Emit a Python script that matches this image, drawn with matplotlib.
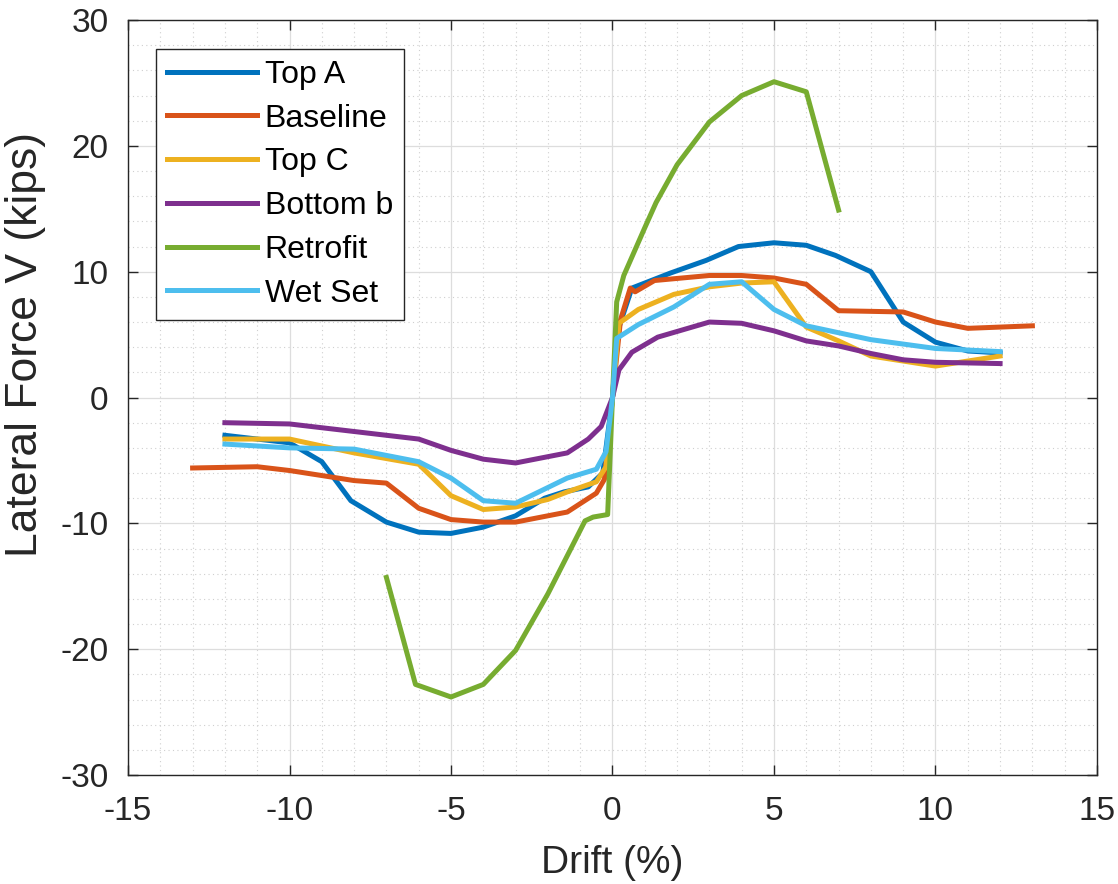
import matplotlib
matplotlib.use("Agg")
import matplotlib.pyplot as plt
from matplotlib.ticker import MultipleLocator

plt.rcParams['font.family'] = ['Liberation Sans', 'DejaVu Sans']
plt.rcParams['axes.unicode_minus'] = False

# ---- data ----
topA_x = [-12, -10, -9, -8.1, -7, -6, -5, -4, -3, -2.1, -1.5, -0.75, -0.3, 0, 0.15, 0.6, 1.8, 2.9, 3.9, 5, 6, 6.9, 8, 9, 10, 11, 12]
topA_y = [-3.0, -3.6, -5.1, -8.2, -9.9, -10.7, -10.8, -10.3, -9.4, -8.0, -7.5, -7.1, -6.0, 0, 5.2, 8.7, 9.9, 10.9, 12.0, 12.3, 12.1, 11.3, 10.0, 6.0, 4.4, 3.7, 3.55]

base_x = [-13, -11, -10, -9, -8, -7, -6, -5, -4, -3, -1.4, -0.5, -0.25, 0, 0.25, 0.55, 0.7, 1.3, 3, 4, 5, 6, 7, 9, 10, 11, 13]
base_y = [-5.6, -5.5, -5.8, -6.2, -6.6, -6.8, -8.8, -9.7, -9.9, -9.9, -9.1, -7.6, -6.5, 0, 6.2, 8.7, 8.4, 9.3, 9.7, 9.7, 9.5, 9.0, 6.9, 6.8, 6.0, 5.5, 5.7]

topC_x = [-12, -10, -8, -6, -5, -4, -3, -2, -1.4, -0.5, -0.2, 0, 0.2, 0.8, 1.9, 3, 4, 5, 6, 7, 8, 10, 11, 12]
topC_y = [-3.3, -3.3, -4.4, -5.3, -7.8, -8.9, -8.7, -8.1, -7.5, -6.7, -5.5, 0, 5.9, 7.0, 8.2, 8.8, 9.1, 9.2, 5.6, 4.5, 3.3, 2.5, 2.9, 3.3]

botb_x = [-12, -10, -8, -6, -5, -4, -3, -2, -1.4, -0.75, -0.35, 0, 0.2, 0.6, 1.4, 3, 4, 5, 6, 7, 8, 9, 10, 12]
botb_y = [-2.0, -2.1, -2.7, -3.3, -4.2, -4.9, -5.2, -4.7, -4.4, -3.3, -2.3, 0, 2.2, 3.6, 4.8, 6.0, 5.9, 5.3, 4.5, 4.1, 3.5, 3.0, 2.8, 2.7]

retro_x = [-7, -6.1, -5, -4, -3, -2, -0.85, -0.6, -0.15, 0, 0.13, 0.35, 1.0, 1.35, 2, 3, 4, 5, 6, 7]
retro_y = [-14.3, -22.8, -23.8, -22.8, -20.1, -15.6, -9.8, -9.5, -9.3, 0, 7.6, 9.7, 13.5, 15.5, 18.5, 21.9, 24.0, 25.1, 24.3, 14.9]

wet_x = [-12, -10, -8, -6, -5, -4, -3, -2.2, -1.4, -0.5, -0.2, 0, 0.13, 0.8, 1.9, 3, 4, 5, 6, 8, 10, 12]
wet_y = [-3.7, -4.0, -4.1, -5.1, -6.4, -8.2, -8.4, -7.4, -6.4, -5.7, -4.3, 0, 4.7, 5.8, 7.2, 9.0, 9.2, 7.0, 5.7, 4.6, 3.9, 3.65]

labels = ["Top A", "Baseline", "Top C", "Bottom b", "Retrofit", "Wet Set"]
colors = ["#0072BD", "#D95319", "#EDB120", "#7E2F8E", "#77AC30", "#4DBEEE"]
xticks = [-15, -10, -5, 0, 5, 10, 15]
yticks = [-30, -20, -10, 0, 10, 20, 30]

series = [(topA_x, topA_y), (base_x, base_y), (topC_x, topC_y),
          (botb_x, botb_y), (retro_x, retro_y), (wet_x, wet_y)]

fig = plt.figure(figsize=(11.18, 8.84), dpi=100)
ax = fig.add_axes([0.1145, 0.1233, 0.8667, 0.854])

for (xs, ys), lab, c in zip(series, labels, colors):
    ax.plot(xs, ys, color=c, lw=3.6, label=lab)

ax.set_xlim(-15, 15)
ax.set_ylim(-30, 30)
ax.set_xticks(xticks)
ax.set_yticks(yticks)
ax.xaxis.set_minor_locator(MultipleLocator(1))
ax.yaxis.set_minor_locator(MultipleLocator(2))
ax.grid(True, which='major', color='#dddddd', lw=0.9, ls='-')
ax.grid(True, which='minor', color='#cfcfcf', lw=0.8, ls=(0, (1, 3)))
ax.set_axisbelow(True)
ax.tick_params(which='major', direction='in', length=7, width=1, top=True, right=True,
               labelsize=24, colors='#262626')
ax.tick_params(axis='x', which='major', pad=15)
ax.tick_params(axis='y', which='major', pad=14)
ax.tick_params(which='minor', length=0)
for s in ax.spines.values():
    s.set_color('#262626')
    s.set_linewidth(1)

ax.set_xlabel("Drift (%)", fontsize=28, color='#262626')
ax.xaxis.set_label_coords(0.5, -0.093)
ax.set_ylabel("Lateral Force V (kips)", fontsize=32, color='#262626')
ax.yaxis.set_label_coords(-0.085, 0.57)

leg = ax.legend(loc='upper left', bbox_to_anchor=(0.029, 0.962), borderaxespad=0,
                fontsize=23, handlelength=2.8, handletextpad=0.25, labelspacing=0.43,
                borderpad=0.35, fancybox=False, framealpha=1, edgecolor='#262626')
leg.get_frame().set_linewidth(1)

fig.savefig("out.png", dpi=100)
